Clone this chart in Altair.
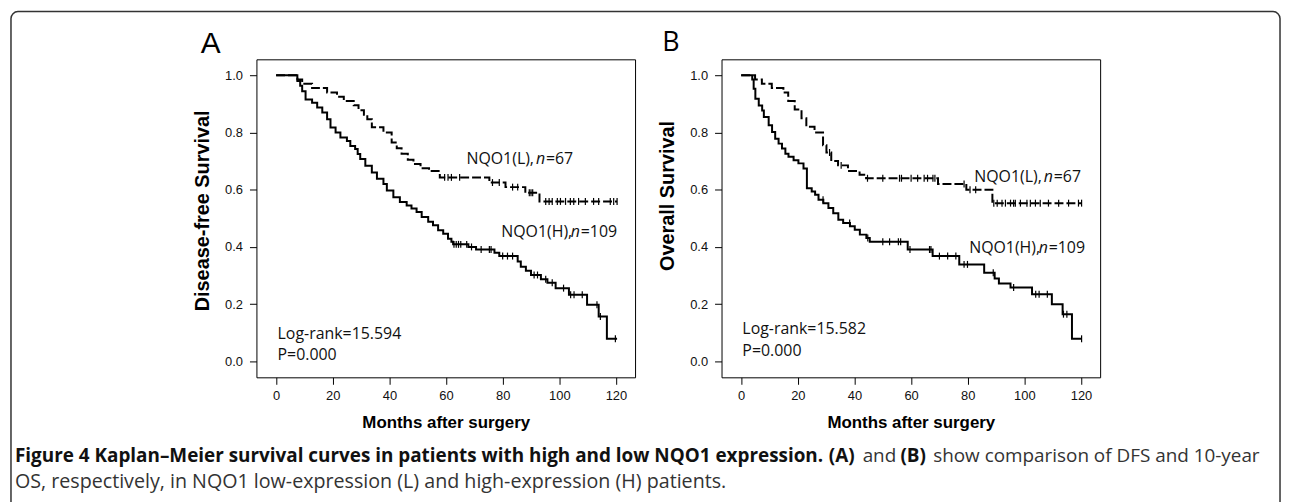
import altair as alt
import pandas as pd

# ---------------- data ----------------
x_ticks = [0, 20, 40, 60, 80, 100, 120]
y_ticks = [0.0, 0.2, 0.4, 0.6, 0.8, 1.0]

# Panel A  (disease-free survival)
a_h_time = [7.5, 8.5, 9.2, 10.4, 12.7, 14.5, 16.3, 18.0, 19.2, 21.0, 22.7, 25.0, 26.2, 27.9, 28.8,
            29.7, 31.5, 33.8, 35.6, 37.9, 39.1, 41.4, 43.7, 46.1, 47.8, 49.6, 51.4, 53.7, 55.4, 57.2,
            59.0, 60.7, 61.9, 62.5, 67.9, 70.6, 77.1, 78.8, 85.3, 86.4, 88.2, 90.0, 93.5, 95.8, 98.7,
            103.4, 109.8, 113.9, 116.8]
a_h_surv = [0.980, 0.963, 0.944, 0.915, 0.904, 0.887, 0.870, 0.846, 0.817, 0.800, 0.782, 0.770, 0.753,
            0.742, 0.725, 0.707, 0.684, 0.660, 0.638, 0.620, 0.597, 0.574, 0.557, 0.545, 0.534, 0.522,
            0.505, 0.488, 0.476, 0.458, 0.446, 0.429, 0.418, 0.409, 0.400, 0.391, 0.380, 0.368, 0.349,
            0.331, 0.317, 0.302, 0.287, 0.275, 0.256, 0.233, 0.198, 0.157, 0.079]
a_h_cens = [62.8, 63.6, 64.4, 65.2, 67.3, 69.0, 72.4, 75.3, 75.9, 80.0, 81.7, 83.5, 91.1, 92.3, 95.2,
            97.5, 101.5, 104.0, 105.2, 108.1, 113.3, 114.5, 119.8]
a_l_time = [7.5, 9.2, 12.7, 18.0, 21.5, 23.9, 27.4, 29.1, 31.0, 32.2, 33.8, 37.9, 40.8, 42.6, 44.3,
            46.5, 48.5, 51.0, 54.0, 57.8, 75.3, 81.0, 88.0, 93.0]
a_l_surv = [0.985, 0.970, 0.955, 0.940, 0.925, 0.910, 0.895, 0.878, 0.862, 0.846, 0.818, 0.800, 0.765,
            0.745, 0.726, 0.705, 0.690, 0.675, 0.665, 0.643, 0.625, 0.609, 0.589, 0.559]
a_l_cens = [59.5, 60.7, 61.9, 64.8, 76.4, 78.8, 83.5, 85.3, 89.4, 90.0, 90.6, 95.2, 96.4, 97.5, 99.3,
            100.4, 102.2, 103.9, 105.1, 106.8, 109.2, 112.1, 113.9, 118.0, 119.2, 120.4]

# Panel B  (overall survival)
b_h_time = [3.9, 4.4, 5.0, 6.2, 7.4, 8.0, 9.7, 10.9, 12.0, 13.2, 14.4, 15.6, 16.7, 18.5, 20.2, 22.0,
            23.2, 24.9, 26.1, 27.3, 29.0, 30.8, 32.5, 34.3, 36.0, 38.4, 40.1, 41.9, 44.2, 45.4, 58.8,
            67.6, 77.0, 85.8, 89.5, 91.0, 95.1, 102.7, 109.7, 113.5, 116.8]
b_h_surv = [0.985, 0.953, 0.918, 0.894, 0.877, 0.854, 0.825, 0.802, 0.778, 0.761, 0.744, 0.726, 0.715,
            0.703, 0.692, 0.674, 0.605, 0.594, 0.582, 0.565, 0.553, 0.536, 0.518, 0.495, 0.484, 0.472,
            0.460, 0.443, 0.431, 0.418, 0.391, 0.368, 0.339, 0.310, 0.290, 0.272, 0.258, 0.235, 0.200,
            0.165, 0.079]
b_h_cens = [28.9, 38.3, 44.7, 50.0, 52.4, 55.5, 56.3, 59.6, 66.5, 67.0, 70.0, 72.9, 75.8, 78.7, 79.9,
            89.0, 96.2, 104.0, 105.2, 108.1, 113.8, 115.0, 120.2]
b_l_time = [4.9, 7.3, 10.8, 14.9, 16.6, 18.9, 21.3, 23.0, 25.9, 28.9, 30.1, 31.8, 34.2, 37.7, 41.8,
            44.1, 69.5, 79.5, 88.7]
b_l_surv = [0.985, 0.970, 0.955, 0.940, 0.910, 0.880, 0.850, 0.820, 0.800, 0.755, 0.730, 0.700, 0.685,
            0.665, 0.652, 0.640, 0.620, 0.600, 0.553]
b_l_cens = [31.2, 35.3, 44.6, 50.0, 55.9, 56.6, 60.0, 62.3, 64.6, 65.8, 67.7, 68.4, 78.7, 80.8, 82.8,
            89.2, 90.4, 92.1, 93.3, 95.1, 96.2, 96.8, 98.6, 100.9, 102.1, 103.9, 105.6, 108.5, 112.1,
            115.6, 119.1, 120.2]

a_end, b_end = 120.4, 120.2

# group labels: (month, survival) anchor of the text
a_label_l = (67.2, 0.707)
a_label_h = (79.5, 0.452)
b_label_l = (82.3, 0.646)
b_label_h = (80.5, 0.397)
a_logrank = ["Log-rank=15.594", "P=0.000"]
b_logrank = ["Log-rank=15.582", "P=0.000"]
a_logrank_pos = [(0.5, 0.096), (0.5, 0.022)]
b_logrank_pos = [(0.4, 0.112), (0.4, 0.038)]

caption_bold = "Figure 4 Kaplan\u2013Meier survival curves in patients with high and low NQO1 expression."
caption_rest = "show comparison of DFS and 10-year"
caption_line2 = "OS, respectively, in NQO1 low-expression (L) and high-expression (H) patients."

# ---------------- helpers ----------------
X_DOMAIN = [-6.95, 126.75]
Y_DOMAIN = [-0.0556, 1.0556]
W, H = 381, 320
SANS = "Liberation Sans, Arial, sans-serif"
OPEN = "Open Sans, sans-serif"


def step_df(times, survs, end):
    return pd.DataFrame({"m": [0.0] + list(times) + [end],
                         "s": [1.0] + list(survs) + [survs[-1]]})


def cens_df(times, survs, cens):
    vals = []
    for c in cens:
        v = 1.0
        for t, s in zip(times, survs):
            if t <= c:
                v = s
        vals.append(v)
    return pd.DataFrame({"m": cens, "s": vals})


def make_enc(ytitle, ty):
    xax = alt.Axis(title="Months after surgery", values=x_ticks, format="d", domain=False,
                   grid=False, ticks=True, tickColor="black", tickSize=7, tickWidth=1,
                   labelFont=SANS, labelFontSize=13, labelColor="#111", labelPadding=5,
                   labelFlush=False, titleFont=SANS, titleFontSize=17, titleFontWeight="bold",
                   titleColor="black", titleX=W / 2, titleY=46, titleAlign="center",
                   titleBaseline="middle")
    yax = alt.Axis(title=ytitle, values=y_ticks, format=".1f", domain=False, grid=False,
                   ticks=True, tickColor="black", tickSize=7, tickWidth=1, labelFont=SANS,
                   labelFontSize=13, labelColor="#111", labelPadding=7, labelFlush=False,
                   titleFont=SANS, titleFontSize=20, titleFontWeight="bold", titleColor="black",
                   titleAngle=270, titleX=-54, titleY=ty, titleAlign="center",
                   titleBaseline="middle")
    x = alt.X("m:Q", scale=alt.Scale(domain=X_DOMAIN, nice=False, zero=False), axis=xax)
    y = alt.Y("s:Q", scale=alt.Scale(domain=Y_DOMAIN, nice=False, zero=False), axis=yax)
    return x, y


def one():
    return alt.Chart(pd.DataFrame({"k": [0]}))


def panel(h_t, h_s, h_c, l_t, l_s, l_c, end, ytitle, ty, lab_l, lab_h, lr_txt, lr_pos,
          letter, letter_xy, letter_font, letter_size, extra):
    x, y = make_enc(ytitle, ty)
    h_line = alt.Chart(step_df(h_t, h_s, end)).mark_line(
        interpolate="step-after", color="black", strokeWidth=2).encode(x=x, y=y)
    l_line = alt.Chart(step_df(l_t, l_s, end)).mark_line(
        interpolate="step-after", color="black", strokeWidth=2, strokeDash=[9, 3]).encode(x=x, y=y)
    cens = pd.concat([cens_df(h_t, h_s, h_c), cens_df(l_t, l_s, l_c)])
    ticks = alt.Chart(cens).mark_point(
        shape="M0,-1L0,1", size=49, filled=False, stroke="black", strokeWidth=1.2,
        opacity=1).encode(x=x, y=y)

    lab = pd.DataFrame({"m": [lab_l[0], lab_h[0]], "s": [lab_l[1], lab_h[1]],
                        "pre": ["NQO1(L),", "NQO1(H),"], "suf": ["=67", "=109"]})
    tstyle = dict(align="left", baseline="middle", font=OPEN, fontSize=16, color="#111")
    pre = alt.Chart(lab).mark_text(**tstyle).encode(x=x, y=y, text="pre:N")
    nn = alt.Chart(lab).mark_text(dx=70, fontStyle="italic", **tstyle).encode(
        x=x, y=y, text=alt.value("n"))
    suf = alt.Chart(lab).mark_text(dx=80, **tstyle).encode(x=x, y=y, text="suf:N")
    lr = pd.DataFrame({"m": [p[0] for p in lr_pos], "s": [p[1] for p in lr_pos], "t": lr_txt})
    lrt = alt.Chart(lr).mark_text(**tstyle).encode(x=x, y=y, text="t:N")
    let = one().mark_text(align="center", baseline="middle", font=letter_font,
                          fontSize=letter_size, color="black").encode(
        x=alt.value(letter_xy[0]), y=alt.value(letter_xy[1]), text=alt.value(letter))
    layers = [h_line, l_line, ticks, pre, nn, suf, lrt, let] + extra
    return alt.layer(*layers).properties(width=W, height=H)


# figure border and caption (pixel positions relative to panel A plot area)
border = one().mark_rect(filled=False, stroke="#333", strokeWidth=1.5, cornerRadius=7).encode(
    x=alt.value(-247), x2=alt.value(1030), y=alt.value(-48), y2=alt.value(470))
cap_style = dict(align="left", baseline="middle", font=OPEN, fontSize=19)
cap = [
    one().mark_text(fontWeight="bold", color="#111", **cap_style).encode(
        x=alt.value(-243), y=alt.value(399), text=alt.value(caption_bold)),
    one().mark_text(fontWeight="bold", color="#111", **cap_style).encode(
        x=alt.value(576), y=alt.value(399), text=alt.value("(A)")),
    one().mark_text(color="#333", **cap_style).encode(
        x=alt.value(610), y=alt.value(399), text=alt.value("and")),
    one().mark_text(fontWeight="bold", color="#111", **cap_style).encode(
        x=alt.value(648), y=alt.value(399), text=alt.value("(B)")),
    one().mark_text(color="#333", **cap_style).encode(
        x=alt.value(681), y=alt.value(399), text=alt.value(caption_rest)),
    one().mark_text(color="#333", **dict(cap_style, fontSize=19.8)).encode(
        x=alt.value(-243), y=alt.value(425), text=alt.value(caption_line2)),
]

pa = panel(a_h_time, a_h_surv, a_h_cens, a_l_time, a_l_surv, a_l_cens, a_end,
           "Disease-free Survival", 152, a_label_l, a_label_h, a_logrank, a_logrank_pos,
           "A", (-46, -15), SANS, 30, [border] + cap)
pb = panel(b_h_time, b_h_surv, b_h_cens, b_l_time, b_l_surv, b_l_cens, b_end,
           "Overall Survival", 137, b_label_l, b_label_h, b_logrank, b_logrank_pos,
           "B", (-51, -16), OPEN, 27, [])

chart = alt.hconcat(pa, pb, spacing=87, bounds="flush").configure_view(
    stroke="black", strokeWidth=1).properties(
    padding={"left": 1, "top": 0, "right": 0, "bottom": 0}, background="white")

chart.save("out.html", embed_options={"renderer": "svg", "actions": False})
